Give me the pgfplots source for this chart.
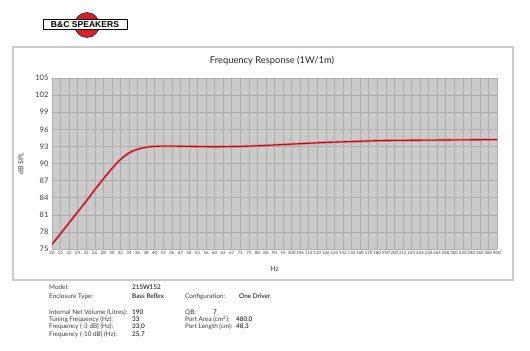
\documentclass[border=0pt]{standalone}
\usepackage{pgfplots}
\pgfplotsset{compat=1.18}
\usepackage{fontspec}
\setmainfont{Lato}
\newfontfamily\logofont{Liberation Sans}
\definecolor{txt}{HTML}{3A3A3A}
\definecolor{plotbg}{HTML}{CBCBCB}
\definecolor{gridc}{HTML}{ADADAD}
\definecolor{curvecore}{HTML}{A8101C}
\definecolor{curvehalo}{HTML}{F07A7A}
\definecolor{logored}{HTML}{D4202A}
\begin{document}
\begin{tikzpicture}[x=1bp,y=1bp]
\useasboundingbox (-52,-101) rectangle (478,249);
\fill[white] (-52,-101) rectangle (478,249);
% frame
\draw[color=black!20, line width=1.2bp] (-39,-31) rectangle (461,202);
% logo
\fill[logored] (35,224) circle (12.5);
\draw[black, line width=0.4bp] (35,224) circle (12.5);
\draw[fill=white, draw=black, line width=0.6bp] (-9,219.5) rectangle (75,229.5);
\node[font=\logofont\bfseries\fontsize{8.6}{9}\selectfont, inner sep=0pt] at (33,224.5) {B\&C SPEAKERS};
% title
\node[font=\fontsize{9.4}{11}\selectfont, text=black!85, inner sep=0pt] at (220,188) {Frequency Response (1W/1m)};
\begin{axis}[
  at={(0,0)}, anchor=south west,
  scale only axis, width=445bp, height=171bp,
  xmin=0, xmax=52, ymin=75, ymax=105,
  xtick={0,...,52},
  xticklabels={20,21,22,24,25,26,28,30,32,34,36,38,40,42,45,47,50,53,56,60,63,67,71,75,80,85,90,95,100,106,112,120,126,134,142,150,160,170,180,190,200,212,224,236,250,264,280,300,320,340,360,380,400},
  ytick={75,78,...,105},
  /pgf/number format/assume math mode=true,
  x tick label style={font=\fontsize{4.4}{5}\selectfont, text=txt, yshift=1bp},
  y tick label style={font=\fontsize{7.6}{8}\selectfont, text=txt},
  major tick length=0pt,
  grid=major,
  major grid style={draw=gridc, line width=0.5bp},
  axis line style={draw=none},
  axis background/.style={fill=plotbg},
  xlabel={Hz}, xlabel style={font=\fontsize{7}{8}\selectfont, text=txt, yshift=-5bp},
  ylabel={dB SPL}, ylabel style={font=\fontsize{7}{8}\selectfont, text=txt, yshift=5bp},
  clip=true,
]
\addplot[curvehalo, line width=2.6bp, smooth, opacity=0.8] coordinates {
(0,75.8) (1,77.7) (2,79.6) (3,81.5) (4,83.4) (5,85.4) (6,87.3) (7,89.1) (8,90.7) (9,91.85) (10,92.5) (11,92.85) (12,93.0) (13,93.05) (14,93.05) (16,93.0) (18,92.95) (20,92.95) (22,93.0) (24,93.1) (26,93.25) (28,93.4) (30,93.55) (32,93.7) (34,93.8) (36,93.9) (38,94.0) (40,94.05) (44,94.1) (48,94.15) (52,94.2)
};
\addplot[curvecore, line width=1.1bp, smooth] coordinates {
(0,75.8) (1,77.7) (2,79.6) (3,81.5) (4,83.4) (5,85.4) (6,87.3) (7,89.1) (8,90.7) (9,91.85) (10,92.5) (11,92.85) (12,93.0) (13,93.05) (14,93.05) (16,93.0) (18,92.95) (20,92.95) (22,93.0) (24,93.1) (26,93.25) (28,93.4) (30,93.55) (32,93.7) (34,93.8) (36,93.9) (38,94.0) (40,94.05) (44,94.1) (48,94.15) (52,94.2)
};
\end{axis}
% specification table
\begin{scope}[every node/.style={anchor=base west, inner sep=0pt, font=\fontsize{6.4}{7}\selectfont, text=txt}]
\node at (-3,-40.5) {Model:};
\node[text=black] at (80,-40.5) {21SW152};
\node at (-3,-49.5) {Enclosure Type:};
\node[text=black] at (80,-49.5) {Bass Reflex};
\node at (133,-49.5) {Configuration:};
\node[text=black] at (187,-49.5) {One Driver};
\node at (-3,-65.5) {Internal Net Volume (Litres):};
\node[text=black] at (80,-65.5) {190};
\node at (133,-65.5) {QB:};
\node[text=black] at (161,-65.5) {7};
\node at (-3,-72.7) {Tuning Frequency (Hz):};
\node[text=black] at (80,-72.7) {33};
\node at (133,-72.7) {Port Area (cm\textsuperscript{2}):};
\node[text=black] at (184,-72.7) {480,0};
\node at (-3,-79.9) {Frequency (-3 dB) (Hz):};
\node[text=black] at (80,-79.9) {33,0};
\node at (133,-79.9) {Port Length (cm):};
\node[text=black] at (184,-79.9) {48,3};
\node at (-3,-87.1) {Frequency (-10 dB) (Hz):};
\node[text=black] at (80,-87.1) {25,7};
\end{scope}
\end{tikzpicture}
\end{document}
